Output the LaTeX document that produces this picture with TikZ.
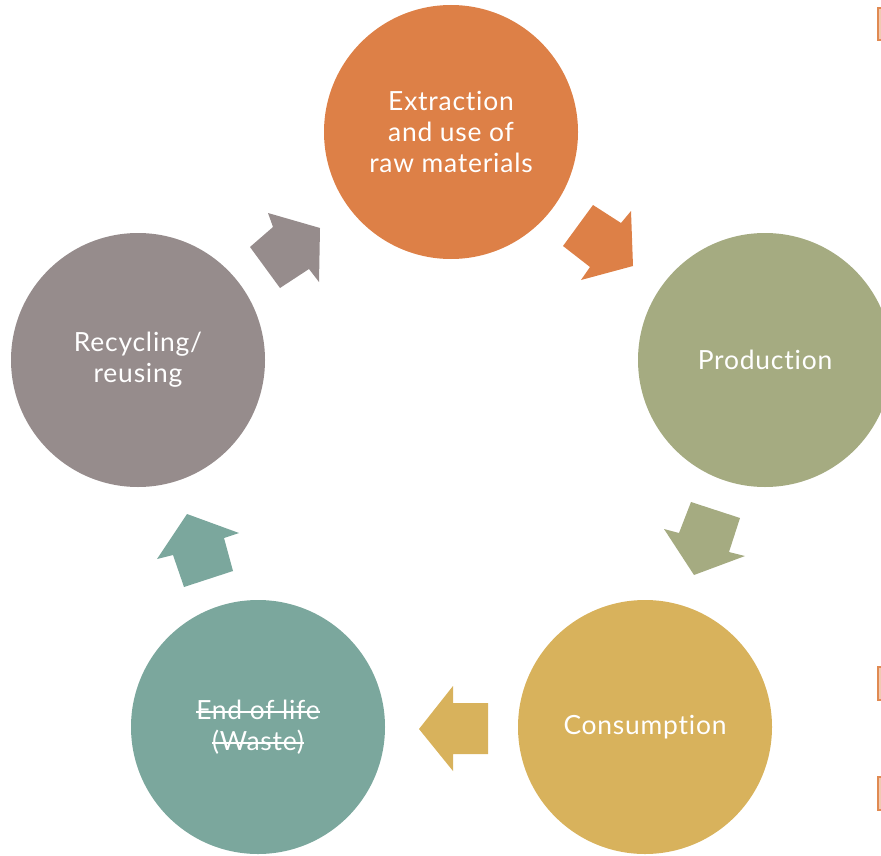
\documentclass[tikz,border=0pt]{standalone}
\usepackage{fontspec}
\setmainfont{Lato}[Ligatures=NoCommon, LetterSpace=3]
\definecolor{cOrange}{HTML}{DD8047}
\definecolor{cGreen}{HTML}{A5AB81}
\definecolor{cYellow}{HTML}{D8B25C}
\definecolor{cTeal}{HTML}{7BA79D}
\definecolor{cGray}{HTML}{968C8C}
\definecolor{cMark}{HTML}{E08A52}
% struck-through text: a rule laid over the word at mid x-height
\newlength\strikelen
\newcommand\struck[1]{\settowidth\strikelen{#1}\rlap{\rule[0.24em]{\strikelen}{0.08em}}#1}
\begin{document}
\begin{tikzpicture}[x=0.75pt,y=-0.75pt,
  stage/.style={circle, draw=none, minimum size=190.5pt, inner sep=0pt,
    text=white, align=center,
    font=\fontsize{19.8pt}{23.25pt}\selectfont},
  blockarrow/.style={draw=none},
  sidemark/.style={draw=cMark, line width=1.8pt, fill=cMark!45}]
\useasboundingbox (0,0) rectangle (881,856);
\clip (0,0) rectangle (881,856);

% the five stages of the cycle
\node[stage, fill=cOrange] (extract) at (451,132) {Extraction\\and use of\\raw materials};
\node[stage, fill=cGreen]  (produce) at (765,360) {Production};
\node[stage, fill=cYellow] (consume) at (645,727) {Consumption};
\node[stage, fill=cTeal]   (waste)   at (258,727) {\struck{End of life}\\\struck{(Waste)}};
\node[stage, fill=cGray]   (recycle) at (138,360) {Recycling/\\reusing};

% block arrows between consecutive stages
\fill[blockarrow, cOrange] (593,205) -- (621,223) -- (631,211) -- (633,266)
  -- (581,280) -- (590,267) -- (563,246) -- cycle;
\fill[blockarrow, cGreen] (691,502) -- (740,518) -- (729,552) -- (745,556)
  -- (694,575) -- (664,529) -- (679,533) -- cycle;
\fill[blockarrow, cYellow] (488,703) -- (488,754) -- (453,754) -- (453,771)
  -- (419,729) -- (453,686) -- (453,703) -- cycle;
\fill[blockarrow, cTeal] (184,587) -- (233,571) -- (224,538) -- (239,533)
  -- (187,514) -- (157,559) -- (173,555) -- cycle;
\fill[blockarrow, cGray] (280,288) -- (250,247) -- (273,227) -- (268,213)
  -- (320,228) -- (319,282) -- (309,269) -- cycle;

% bracket marks along the right edge
\draw[sidemark] (878.2,8) rectangle (890,40);
\draw[sidemark] (878.2,667) rectangle (890,700);
\draw[sidemark] (878.2,777) rectangle (890,810);
\end{tikzpicture}
\end{document}
